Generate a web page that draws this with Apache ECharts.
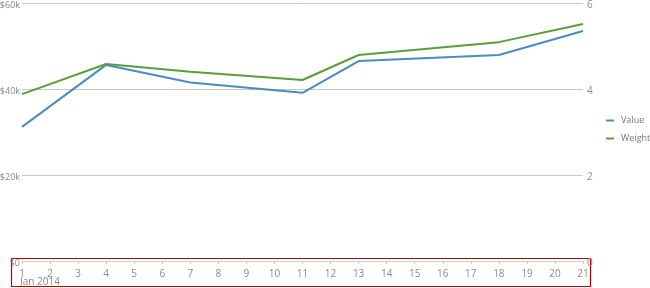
<!DOCTYPE html>
<html><head><meta charset="utf-8">
<script src="https://cdn.jsdelivr.net/npm/echarts@6/dist/echarts.min.js"></script>
<style>html,body{margin:0;padding:0;background:#fff}#c{width:650px;height:288px}</style>
</head><body><div id="c"></div>
<script>
const days = [1, 4, 7, 11, 13, 18, 21];
const valueSeries = [31200, 45600, 41500, 39100, 46500, 47900, 53500];
const weightSeries = [3.88, 4.58, 4.40, 4.21, 4.79, 5.09, 5.51];
const monthLabel = 'Jan 2014';
const seriesNames = ['Value', 'Weight'];

const font = '"Open Sans", sans-serif';
const chart = echarts.init(document.getElementById('c'));
chart.setOption({
  animation: false,
  textStyle: {fontFamily: font},
  grid: {left: 22, right: 67, top: 3, bottom: 27, containLabel: false, outerBoundsMode: 'none'},
  legend: {
    orient: 'vertical', left: 601, top: 111, itemGap: 9,
    icon: 'rect', itemWidth: 8, itemHeight: 2,
    textStyle: {fontFamily: font, fontSize: 9, color: '#777', padding: [0, 0, 0, 2]},
    data: seriesNames
  },
  xAxis: {
    type: 'value', min: 1, max: 21, interval: 1,
    axisLine: {show: true, lineStyle: {color: '#ccc'}},
    axisTick: {show: true, length: 3, lineStyle: {color: '#ccc'}},
    splitLine: {show: false},
    axisLabel: {fontFamily: font, fontSize: 10, color: '#8a8a8a', margin: 8}
  },
  yAxis: [
    {type: 'value', min: 0, max: 60000, interval: 20000,
     axisLine: {show: false}, axisTick: {show: false},
     splitLine: {lineStyle: {color: '#c8c8c8'}},
     axisLabel: {fontFamily: font, fontSize: 9, color: '#8a8a8a', margin: 2,
       verticalAlign: 'top', lineHeight: 4,
       formatter: v => '$' + (v === 0 ? '0' : (v / 1000) + 'k')}},
    {type: 'value', min: 0, max: 6, interval: 2, position: 'right',
     axisLine: {show: false}, axisTick: {show: false}, splitLine: {show: false},
     axisLabel: {fontFamily: font, fontSize: 10, color: '#8a8a8a', margin: 4,
       verticalAlign: 'top', lineHeight: 4}}
  ],
  series: [
    {name: seriesNames[0], type: 'line', yAxisIndex: 0, symbol: 'none',
     lineStyle: {width: 2, color: '#4b8bc0'}, itemStyle: {color: '#4b8bc0'},
     data: days.map((d, i) => [d, valueSeries[i]])},
    {name: seriesNames[1], type: 'line', yAxisIndex: 1, symbol: 'none',
     lineStyle: {width: 2, color: '#5a9e3a'}, itemStyle: {color: '#5a9e3a'},
     data: days.map((d, i) => [d, weightSeries[i]])}
  ],
  graphic: [
    {type: 'text', left: 20, top: 277,
     style: {text: monthLabel, font: '10px ' + font, fill: '#8a8a8a'}},
    {type: 'rect', shape: {x: 11.5, y: 258.5, width: 579, height: 28},
     style: {fill: 'none', stroke: '#c00000', lineWidth: 1.2}}
  ]
});
</script></body></html>
